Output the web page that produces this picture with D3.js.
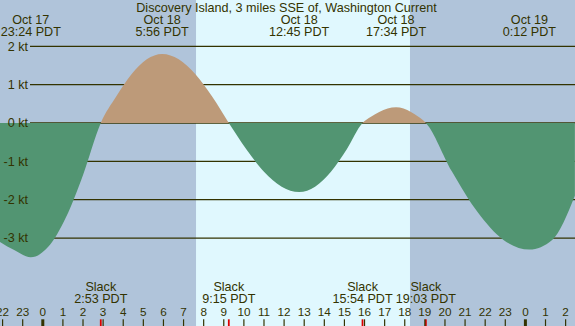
<html>
<head>
<script src="https://cdn.jsdelivr.net/npm/d3@7"></script>
<style>
  body { margin: 0; }
  svg { display: block; font-family: "Liberation Sans", Arial, sans-serif; }
</style>
</head>
<body>
<svg width="575" height="326"></svg>
<script>
  // hours are counted from Oct 18 00:00 PDT
  var curveHours = [-2.13, -1.4, -0.6, 0.27, 1.14, 2.01, 2.883, 3.65, 4.41, 5.17, 5.933,
                    6.76, 7.59, 8.42, 9.25, 10.13, 11.0, 11.88, 12.75, 13.54, 14.33, 15.11, 15.9,
                    16.32, 16.73, 17.15, 17.567, 17.94, 18.31, 18.68, 19.05,
                    20.34, 21.63, 22.91, 24.2, 25.33, 26.46]
  var curveKnots = [-3.1, -3.32, -3.5, -3.23, -2.47, -1.34, 0, 0.69, 1.27, 1.66, 1.8,
                    1.66, 1.27, 0.69, 0, -0.69, -1.27, -1.66, -1.8, -1.66, -1.27, -0.69, 0,
                    0.16, 0.29, 0.38, 0.41, 0.38, 0.29, 0.16, 0,
                    -1.26, -2.33, -3.05, -3.3, -3.05, -1.9]

  var peakHours = [-0.6, 5.933, 12.75, 17.567, 24.2]
  var peakDates = ['Oct 17', 'Oct 18', 'Oct 18', 'Oct 18', 'Oct 19']
  var peakTimes = ['23:24 PDT', '5:56 PDT', '12:45 PDT', '17:34 PDT', '0:12 PDT']

  var slackHours = [2.883, 9.25, 15.9, 19.05]
  var slackTimes = ['2:53 PDT', '9:15 PDT', '15:54 PDT', '19:03 PDT']

  var ktTicks = [2, 1, 0, -1, -2, -3]
  var sunrise = 7.62, sunset = 18.26
  var title = 'Discovery Island, 3 miles SSE of, Washington Current'

  var W = 575, H = 326
  var ink = '#333300'

  var x = d3.scaleLinear().domain([0, 24]).range([42.8, 525.4])
  var y = d3.scaleLinear().domain([0, 2]).range([123, 46.3])

  var svg = d3.select('svg')

  svg.append('rect').attr('width', W).attr('height', H).attr('fill', '#b0c4da')
  svg.append('rect')
    .attr('x', x(sunrise)).attr('y', 0)
    .attr('width', x(sunset) - x(sunrise)).attr('height', H)
    .attr('fill', '#e0f8fe')

  // kt grid lines
  svg.selectAll('.grid')
    .data(ktTicks)
    .enter()
    .append('line')
    .attr('x1', 30).attr('x2', W)
    .attr('y1', function(d){ return y(d) })
    .attr('y2', function(d){ return y(d) })
    .attr('stroke', ink)
    .attr('stroke-width', 1.3)

  var pts = curveHours.map(function(h, i){ return [h, curveKnots[i]] })

  var area = d3.area()
    .x(function(d){ return x(d[0]) })
    .y0(y(0))
    .y1(function(d){ return y(d[1]) })
    .curve(d3.curveMonotoneX)

  var defs = svg.append('defs')
  defs.append('clipPath').attr('id', 'above')
    .append('rect').attr('x', 0).attr('y', 0).attr('width', W).attr('height', y(0))
  defs.append('clipPath').attr('id', 'below')
    .append('rect').attr('x', 0).attr('y', y(0)).attr('width', W).attr('height', H - y(0))

  svg.append('path').datum(pts)
    .attr('d', area)
    .attr('fill', '#bd9a79')
    .attr('clip-path', 'url(#above)')
  svg.append('path').datum(pts)
    .attr('d', area)
    .attr('fill', '#529572')
    .attr('clip-path', 'url(#below)')

  // kt labels
  svg.selectAll('.ktlab')
    .data(ktTicks)
    .enter()
    .append('text')
    .text(function(d){ return d + ' kt' })
    .attr('x', 28)
    .attr('y', function(d){ return y(d) + 4.4 })
    .attr('text-anchor', 'end')
    .attr('font-size', 12.6)
    .attr('fill', ink)

  // title and peak labels
  svg.append('text')
    .text(title)
    .attr('x', W / 2 - 1).attr('y', 11.7)
    .attr('text-anchor', 'middle')
    .attr('font-size', 12.6)
    .attr('fill', ink)

  var peaks = svg.selectAll('.peak')
    .data(peakHours)
    .enter()
    .append('g')
    .attr('transform', function(d){ return 'translate(' + x(d) + ',0)' })
  peaks.append('text')
    .text(function(d, i){ return peakDates[i] })
    .attr('y', 23.6)
    .attr('text-anchor', 'middle')
    .attr('font-size', 12.6)
    .attr('fill', ink)
  peaks.append('text')
    .text(function(d, i){ return peakTimes[i] })
    .attr('y', 35.7)
    .attr('text-anchor', 'middle')
    .attr('font-size', 12.6)
    .attr('fill', ink)

  // slack labels
  var slacks = svg.selectAll('.slack')
    .data(slackHours)
    .enter()
    .append('g')
    .attr('transform', function(d){ return 'translate(' + x(d) + ',0)' })
  slacks.append('text')
    .text('Slack')
    .attr('y', 291.3)
    .attr('text-anchor', 'middle')
    .attr('font-size', 12.6)
    .attr('fill', ink)
  slacks.append('text')
    .text(function(d, i){ return slackTimes[i] })
    .attr('y', 303.3)
    .attr('text-anchor', 'middle')
    .attr('font-size', 12.6)
    .attr('fill', ink)

  // hour axis
  var hours = d3.range(-2, 27)
  svg.selectAll('.hlab')
    .data(hours)
    .enter()
    .append('text')
    .text(function(d){ return (d + 24) % 24 })
    .attr('x', function(d){ return x(d) })
    .attr('y', 315.7)
    .attr('text-anchor', 'middle')
    .attr('font-size', 11.7)
    .attr('fill', ink)

  svg.selectAll('.slacktick')
    .data(slackHours)
    .enter()
    .append('line')
    .attr('x1', function(d){ return x(d) }).attr('x2', function(d){ return x(d) })
    .attr('y1', 319.3).attr('y2', H)
    .attr('stroke', '#dd0000')
    .attr('stroke-width', 1.8)

  svg.selectAll('.htick')
    .data(hours)
    .enter()
    .append('line')
    .attr('x1', function(d){ return x(d) }).attr('x2', function(d){ return x(d) })
    .attr('y1', 319.3).attr('y2', H)
    .attr('stroke', ink)
    .attr('stroke-width', function(d){ return d % 24 == 0 ? 3 : 1.2 })
</script>
</body>
</html>
